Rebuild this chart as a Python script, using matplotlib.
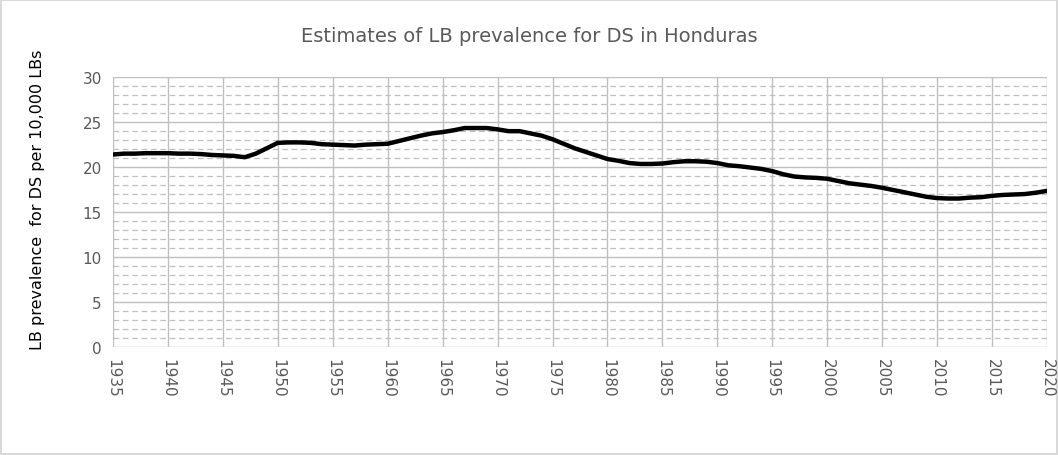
import numpy as np
import matplotlib.pyplot as plt
from matplotlib.ticker import MultipleLocator

anios = list(range(1935, 2021))
prevalencia = [
    21.4, 21.5, 21.5, 21.55, 21.55, 21.55, 21.5, 21.5, 21.45, 21.35,   # 1935-1944
    21.3, 21.25, 21.1, 21.5, 22.1, 22.7, 22.75, 22.75, 22.7, 22.55,    # 1945-1954
    22.5, 22.45, 22.4, 22.5, 22.55, 22.6, 22.9, 23.2, 23.5, 23.75,     # 1955-1964
    23.9, 24.1, 24.35, 24.35, 24.35, 24.2, 24.0, 24.0, 23.75, 23.5,    # 1965-1974
    23.1, 22.6, 22.1, 21.7, 21.3, 20.9, 20.7, 20.45, 20.35, 20.35,     # 1975-1984
    20.4, 20.55, 20.65, 20.65, 20.6, 20.45, 20.2, 20.1, 19.95, 19.8,   # 1985-1994
    19.55, 19.2, 18.95, 18.85, 18.8, 18.7, 18.45, 18.2, 18.05, 17.9,   # 1995-2004
    17.7, 17.45, 17.2, 16.95, 16.7, 16.55, 16.5, 16.5, 16.6, 16.65,    # 2005-2014
    16.8, 16.9, 16.95, 17.0, 17.15, 17.35,                             # 2015-2020
]
titulo = "Estimates of LB prevalence for DS in Honduras"
etiqueta_y = "LB prevalence  for DS per 10,000 LBs"

gris_texto = "#595959"

fig = plt.figure(figsize=(10.58, 4.56), dpi=100)
fig.patch.set_edgecolor("#d9d9d9")
fig.patch.set_linewidth(1.5)
ax = fig.add_axes([0.1068, 0.2375, 0.8828, 0.5908])

ax.plot(anios, prevalencia, color="black", linewidth=3.2, solid_capstyle="round", zorder=3)

ax.set_xlim(1935, 2020)
ax.set_ylim(0, 30)
ax.xaxis.set_major_locator(MultipleLocator(5))
ax.yaxis.set_major_locator(MultipleLocator(5))
ax.yaxis.set_minor_locator(MultipleLocator(1))

ax.grid(which="major", color="#bfbfbf", linewidth=1.0, linestyle="-")
ax.grid(which="minor", axis="y", color="#bfbfbf", linewidth=0.9, linestyle=(0, (4.5, 3)))
ax.set_axisbelow(True)

for s in ax.spines.values():
    s.set_visible(False)

ax.tick_params(which="both", length=0)
ax.tick_params(axis="y", labelsize=11, labelcolor=gris_texto, pad=8)
ax.tick_params(axis="x", labelsize=11, labelcolor=gris_texto, pad=8, labelrotation=-90)

ax.set_ylabel(etiqueta_y, fontsize=11.5, color="black", labelpad=8)
ax.yaxis.set_label_coords(-0.073, 0.55)
fig.suptitle(titulo, fontsize=14, color=gris_texto, y=0.94)

plt.savefig("out.png", dpi=100)
